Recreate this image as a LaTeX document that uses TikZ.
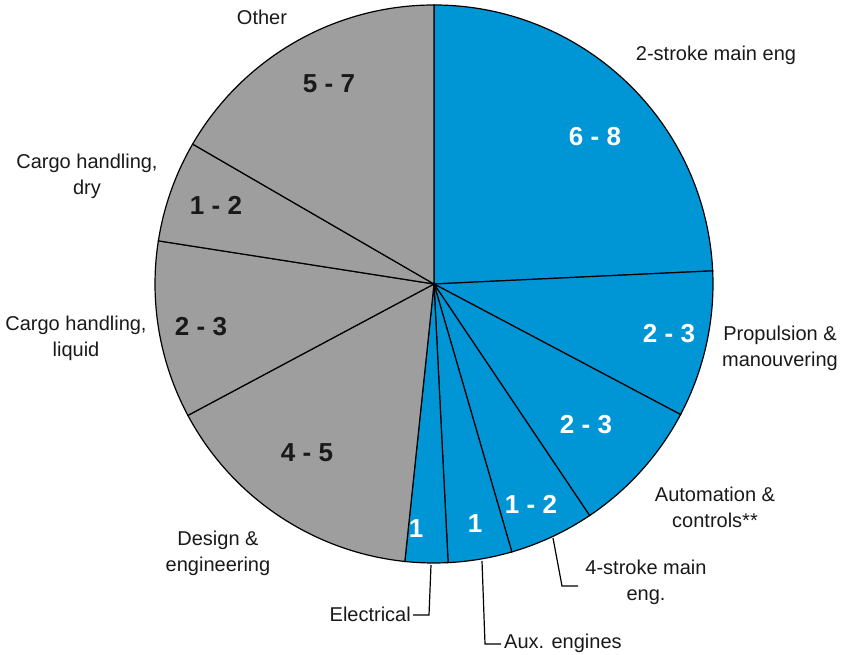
\documentclass[tikz,border=0pt]{standalone}
\usepackage{fontspec}
\setmainfont{Liberation Sans}
\usepackage{pgf,tikz}

\definecolor{engblue}{RGB}{0,150,214}
\definecolor{enggray}{RGB}{158,158,158}

\begin{document}
\begin{tikzpicture}[x=1pt,y=1pt]
			\tikzstyle{every node}=[font=\fontsize{20}{26}\selectfont,align=center,text=black!90,inner sep=0pt]
			\tikzstyle{share}=[font=\fontsize{26}{30}\selectfont\bfseries]
			\tikzstyle{blue slice}=[fill=engblue,draw=black,line width=1.2pt]
			\tikzstyle{gray slice}=[fill=enggray,draw=black,line width=1.2pt]
			\tikzstyle{leader}=[draw=black,line width=1.2pt]
			\useasboundingbox (0,0) rectangle (843,655);
			\coordinate (c) at (434,371);
			% blue slices
			\filldraw[blue slice] (c) -- ++(90:279pt) arc[start angle=90,end angle=2.7,radius=279pt] -- cycle;
			\filldraw[blue slice] (c) -- ++(2.7:279pt) arc[start angle=2.7,end angle=-27.9,radius=279pt] -- cycle;
			\filldraw[blue slice] (c) -- ++(-27.9:279pt) arc[start angle=-27.9,end angle=-56.1,radius=279pt] -- cycle;
			\filldraw[blue slice] (c) -- ++(-56.1:279pt) arc[start angle=-56.1,end angle=-73.8,radius=279pt] -- cycle;
			\filldraw[blue slice] (c) -- ++(-73.8:279pt) arc[start angle=-73.8,end angle=-87.1,radius=279pt] -- cycle;
			\filldraw[blue slice] (c) -- ++(-87.1:279pt) arc[start angle=-87.1,end angle=-96,radius=279pt] -- cycle;
			% gray slices
			\filldraw[gray slice] (c) -- ++(-96:279pt) arc[start angle=-96,end angle=-151.9,radius=279pt] -- cycle;
			\filldraw[gray slice] (c) -- ++(-151.9:279pt) arc[start angle=-151.9,end angle=-188.9,radius=279pt] -- cycle;
			\filldraw[gray slice] (c) -- ++(-188.9:279pt) arc[start angle=-188.9,end angle=-210.1,radius=279pt] -- cycle;
			\filldraw[gray slice] (c) -- ++(-210.1:279pt) arc[start angle=-210.1,end angle=-270,radius=279pt] -- cycle;
			% shares
			\node[share,text=white] (twostroke val) at (595,518) {6 - 8};
			\node[share,text=white] (propulsion val) at (669,321) {2 - 3};
			\node[share,text=white] (automation val) at (586,230) {2 - 3};
			\node[share,text=white] (fourstroke val) at (531,151) {1 - 2};
			\node[share,text=white] (aux val) at (475,131) {1};
			\node[share,text=white] (electrical val) at (416,126) {1};
			\node[share] (design val) at (307,202) {4 - 5};
			\node[share] (liquid val) at (201,328) {2 - 3};
			\node[share] (dry val) at (216,450) {1 - 2};
			\node[share] (other val) at (329,571) {5 - 7};
			% labels
			\node (other) at (262,638) {Other};
			\node (twostroke) at (716,600) {2-stroke main eng};
			\node (propulsion) at (780,307) {Propulsion \&\\manouvering};
			\node (automation) at (715,148) {Automation \&\\controls**};
			\node (fourstroke) at (646,73) {4-stroke main\\eng.};
			\node[anchor=west] (aux) at (504,12) {Aux. engines};
			\node[anchor=east] (electrical) at (411,41) {Electrical};
			\node (design) at (218,102) {Design \&\\engineering};
			\node (liquid) at (76,317) {Cargo handling,\\liquid};
			\node (dry) at (87,479) {Cargo handling,\\dry};
			% leaders
			\coordinate (fourstroke tip) at (553,117);
			\coordinate (fourstroke bend) at (562,69);
			\draw[leader] (fourstroke tip) -- (fourstroke bend) -- (578,69);
			\coordinate (aux tip) at (482,94);
			\coordinate (aux bend) at (485,11);
			\draw[leader] (aux tip) -- (aux bend) -- ([xshift=-3pt]aux.west |- aux bend);
			\coordinate (electrical tip) at (431,90);
			\coordinate (electrical bend) at (429,40);
			\draw[leader] (electrical tip) -- (electrical bend) -- ([xshift=2pt]electrical.east |- electrical bend);
		\end{tikzpicture}
\end{document}
